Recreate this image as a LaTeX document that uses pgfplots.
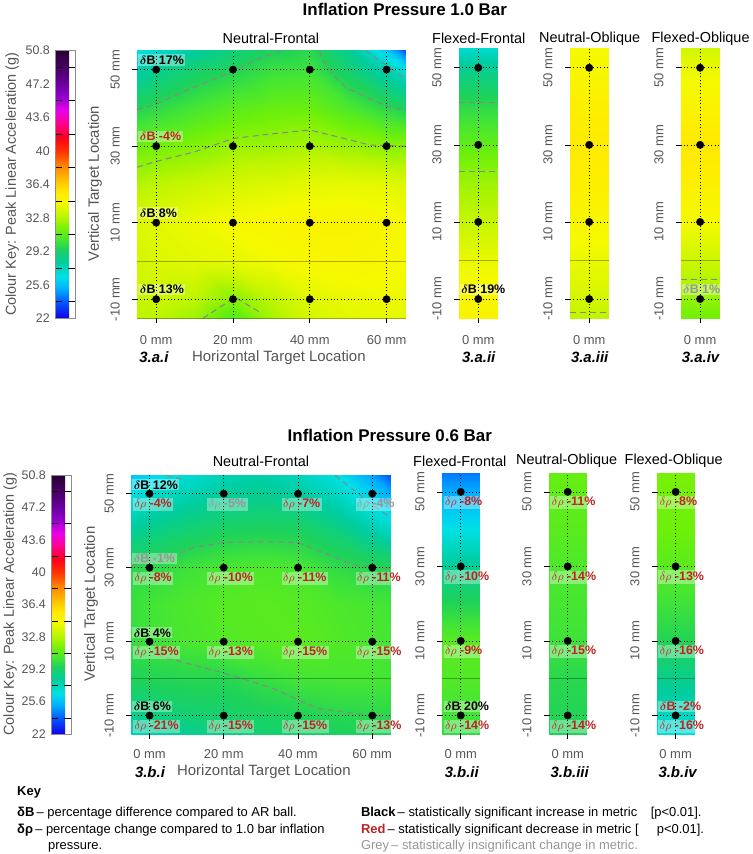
\documentclass[border=0pt]{standalone}
\usepackage{fontspec}
\setmainfont{Liberation Sans}
\usepackage{amsmath}
\usepackage{pgfplots}
\pgfplotsset{compat=1.18}

\definecolor{ticktext}{RGB}{85,85,85}
\definecolor{sigred}{RGB}{190,35,35}
\definecolor{insig}{RGB}{150,150,150}
\definecolor{ctrgrey}{RGB}{135,135,135}

\newcommand{\fsz}[1]{\fontsize{#1}{#1}\selectfont}
\newcommand{\dB}{$\boldsymbol{\delta}$B}
\newcommand{\dr}{$\delta\rho$}

\tikzset{
  lab/.style={anchor=west, fill=white, fill opacity=0.35, text opacity=1,
    inner xsep=1.5bp, inner ysep=1.2bp, font=\fsz{12.5}\bfseries},
  lB/.style={lab, text=black},
  lR/.style={lab, text=sigred},
  lG/.style={lab, text=insig},
}

\pgfplotsset{
  colormap={accel}{
    rgb255(0pt)=(20,0,230);
    rgb255(18pt)=(0,90,255);
    rgb255(32pt)=(0,175,255);
    rgb255(45pt)=(0,225,230);
    rgb255(60pt)=(0,205,160);
    rgb255(75pt)=(30,210,90);
    rgb255(85pt)=(70,230,50);
    rgb255(95pt)=(110,240,10);
    rgb255(110pt)=(190,245,0);
    rgb255(125pt)=(245,250,0);
    rgb255(135pt)=(255,235,0);
    rgb255(145pt)=(255,205,0);
    rgb255(165pt)=(255,130,0);
    rgb255(180pt)=(255,50,0);
    rgb255(195pt)=(250,0,30);
    rgb255(210pt)=(255,0,150);
    rgb255(223pt)=(235,0,235);
    rgb255(240pt)=(140,0,200);
    rgb255(260pt)=(90,0,130);
    rgb255(288pt)=(40,0,50)
  },
  hm/.style={
    scale only axis,
    anchor=north west,
    axis on top,
    clip=false,
    axis line style={draw=none},
    tick pos=left,
    tick align=outside,
    major tick length=5bp,
    tick style={black, line width=0.6bp},
    grid=major,
    major grid style={black, dash pattern=on 0.8bp off 2.6bp, line width=0.7bp},
    ymin=-15, ymax=55,
    ytick={-10,10,30,50},
    yticklabels={-10 mm,10 mm,30 mm,50 mm},
    xticklabel style={font=\fsz{13}, text=ticktext, anchor=north, inner sep=0pt},
    yticklabel style={font=\fsz{13}, text=ticktext, rotate=90, anchor=south, inner sep=0pt},
    yticklabel shift=12bp,
    extra y ticks={0},
    extra y tick labels={},
    extra y tick style={major tick length=0pt,
      major grid style={solid, black, opacity=0.3, line width=0.8bp}},
    colormap name=accel,
    point meta min=22, point meta max=50.8,
  },
  nf/.style={hm, xmin=-5, xmax=65, xtick={0,20,40,60},
    xticklabels={0 mm,20 mm,40 mm,60 mm}},
  sm/.style={hm, xmin=-5, xmax=5, xtick={0}, xticklabels={0 mm}},
  cbar/.style={
    colorbar left,
    colorbar style={
      at={(parent axis.north west)}, anchor=north east,
      xshift=#1,
      width=20bp,
      ytick={22,25.6,29.2,32.8,36.4,40,43.6,47.2,50.8},
      yticklabels={22,25.6,29.2,32.8,36.4,40,43.6,47.2,50.8},
      minor ytick={23.8,27.4,31,34.6,38.2,41.8,45.4,49},
      ytick pos=both,
      yticklabel pos=left,
      major tick length=0pt,
      minor tick length=7bp,
      tick align=inside,
      minor tick style={black, line width=0.6bp},
      yticklabel style={font=\fsz{12.5}, text=ticktext, anchor=east, inner sep=0pt},
      yticklabel shift=5bp,
      axis line style={draw=black!45, line width=0.4bp},
    }
  },
  ctr/.style={draw=ctrgrey, dash pattern=on 6bp off 4bp, line width=1bp, mark=none},
  pts/.style={only marks, mark=*, mark size=3.7bp, black},
  heat/.style={surf, shader=interp, point meta=explicit},
}

\begin{document}
\begin{tikzpicture}[x=1bp, y=1bp]
\path (0,0) rectangle (749,854);

% ---------------- Inflation pressure 1.0 bar ----------------
\node[font=\fsz{17}\bfseries] at (402,845) {Inflation Pressure 1.0 Bar};

\begin{axis}[nf, cbar=-53.5bp, at={(134bp,804bp)}, width=269bp, height=268bp,
  xticklabel shift=12bp]
\addplot[heat, mesh/cols=9] table[meta index=2] {
x y v
-5 -15 33.0
0 -15 33.0
10 -15 32.4
20 -15 30.8
30 -15 32.5
40 -15 33.6
50 -15 34.0
60 -15 34.1
65 -15 34.0
-5 -10 33.2
0 -10 33.4
10 -10 33.0
20 -10 31.9
30 -10 33.0
40 -10 33.9
50 -10 34.2
60 -10 34.3
65 -10 34.2
-5 0 33.6
0 0 33.8
10 0 34.0
20 0 34.1
30 0 34.4
40 0 34.7
50 0 34.8
60 0 34.7
65 0 34.5
-5 10 33.8
0 10 34.0
10 10 34.3
20 10 34.6
30 10 34.8
40 10 35.0
50 10 35.0
60 10 34.8
65 10 34.5
-5 20 32.8
0 20 33.0
10 20 33.3
20 20 33.6
30 20 33.8
40 20 34.0
50 20 34.1
60 20 34.0
65 20 33.8
-5 30 31.4
0 30 31.6
10 30 31.9
20 30 32.3
30 30 32.4
40 30 32.6
50 30 32.3
60 30 32.0
65 30 32.0
-5 40 29.6
0 40 29.9
10 40 30.5
20 40 31.0
30 40 31.3
40 40 31.4
50 40 30.7
60 40 29.8
65 40 29.4
-5 50 27.8
0 50 28.3
10 50 29.1
20 50 29.6
30 50 30.2
40 50 30.3
50 50 29.0
60 50 27.6
65 50 26.8
-5 55 26.5
0 55 27.0
10 55 28.0
20 55 28.8
30 55 29.4
40 55 29.8
50 55 28.3
60 55 25.8
65 55 23.6
};
\addplot[ctr] coordinates {(-5,39.5) (0,41) (10,45.5) (20,49.5) (27,53) (33,55)};
\addplot[ctr] coordinates {(42.6,55) (43,53) (46.8,47.9) (49.4,45.3) (55.6,42.4) (59.7,40.6) (65,39.3)};
\addplot[ctr] coordinates {(54.5,55) (59,51.8) (65,47.5)};
\addplot[ctr] coordinates {(-5,24.5) (0,26) (10,28.5) (20,32) (30,33.2) (40,34.2) (47,32.5) (55.6,30.3) (65,30)};
\addplot[ctr] coordinates {(12.2,-15) (20.5,-9.5) (27.3,-13.6)};
\addplot[pts] coordinates {(0,-10) (20,-10) (40,-10) (60,-10) (0,10) (20,10) (40,10) (60,10)
  (0,30) (20,30) (40,30) (60,30) (0,50) (20,50) (40,50) (60,50)};
\draw[black, opacity=0.3, line width=0.8bp] (rel axis cs:0,0) -- (rel axis cs:1,0);
\node[lB] at (axis cs:-4.7,52.5) {\dB\ 17\%};
\node[lR] at (axis cs:-4.7,32.5) {\dB\ -4\%};
\node[lB] at (axis cs:-4.7,12.5) {\dB\ 8\%};
\node[lB] at (axis cs:-4.7,-7.5) {\dB\ 13\%};
\end{axis}

\begin{axis}[sm, at={(456bp,806bp)}, width=39bp, height=270bp, xticklabel shift=12bp]
\addplot[heat, mesh/cols=2] table[meta index=2] {
x y v
-5 -15 35.0
5 -15 35.0
-5 -10 34.8
5 -10 34.8
-5 0 34.2
5 0 34.2
-5 10 33.2
5 10 33.2
-5 20 32.4
5 20 32.4
-5 30 31.2
5 30 31.2
-5 40 29.9
5 40 29.9
-5 50 28.3
5 50 28.3
-5 55 27.0
5 55 27.0
};
\addplot[ctr] coordinates {(-5,41) (5,41)};
\addplot[ctr] coordinates {(-5,23.1) (5,23.1)};
\addplot[pts] coordinates {(0,-10) (0,10) (0,30) (0,50)};
\node[lB] at (axis cs:-4.8,-7.5) {\dB\ 19\%};
\end{axis}

\begin{axis}[sm, at={(567bp,806bp)}, width=39bp, height=270bp, xticklabel shift=12bp]
\addplot[heat, mesh/cols=2] table[meta index=2] {
x y v
-5 -15 33.0
5 -15 33.0
-5 -10 33.6
5 -10 33.6
-5 0 34.2
5 0 34.2
-5 10 34.8
5 10 34.8
-5 20 35.2
5 20 35.2
-5 30 35.5
5 30 35.5
-5 40 35.2
5 40 35.2
-5 50 34.7
5 50 34.7
-5 55 34.5
5 55 34.5
};
\addplot[ctr] coordinates {(-5,-13.4) (5,-13.4)};
\addplot[pts] coordinates {(0,-10) (0,10) (0,30) (0,50)};
\end{axis}

\begin{axis}[sm, at={(678bp,806bp)}, width=39bp, height=270bp, xticklabel shift=12bp]
\addplot[heat, mesh/cols=2] table[meta index=2] {
x y v
-5 -15 31.5
5 -15 31.5
-5 -10 32.2
5 -10 32.2
-5 0 33.4
5 0 33.4
-5 10 34.5
5 10 34.5
-5 20 35.2
5 20 35.2
-5 30 35.6
5 30 35.6
-5 40 35.0
5 40 35.0
-5 50 34.2
5 50 34.2
-5 55 33.5
5 55 33.5
};
\addplot[ctr] coordinates {(-5,-5) (5,-5)};
\addplot[pts] coordinates {(0,-10) (0,10) (0,30) (0,50)};
\node[lG] at (axis cs:-4.8,-7.5) {\dB\ 1\%};
\end{axis}

\node[font=\fsz{14.5}] at (268,816) {Neutral-Frontal};
\node[font=\fsz{14.5}] at (476,816) {Flexed-Frontal};
\node[font=\fsz{14.5}] at (587,816) {Neutral-Oblique};
\node[font=\fsz{14.5}] at (698,816) {Flexed-Oblique};
\node[font=\fsz{14.5}, text=ticktext, rotate=90] at (9,670) {Colour Key: Peak Linear Acceleration (g)};
\node[font=\fsz{15}, text=ticktext, rotate=90] at (92,671) {Vertical Target Location};
\node[font=\fsz{15}, text=ticktext] at (276,497) {Horizontal Target Location};
\node[font=\fsz{15}\bfseries\itshape] at (151,497) {3.a.i};
\node[font=\fsz{15}\bfseries\itshape] at (476,497) {3.a.ii};
\node[font=\fsz{15}\bfseries\itshape] at (587,497) {3.a.iii};
\node[font=\fsz{15}\bfseries\itshape] at (698,497) {3.a.iv};

% ---------------- Inflation pressure 0.6 bar ----------------
\node[font=\fsz{17}\bfseries] at (387,419) {Inflation Pressure 0.6 Bar};

\begin{axis}[nf, cbar=-51.5bp, at={(128bp,379bp)}, width=260bp, height=259bp,
  xticklabel shift=10.5bp]
\addplot[heat, mesh/cols=9] table[meta index=2] {
x y v
-5 -15 27.5
0 -15 27.8
10 -15 28.3
20 -15 28.7
30 -15 29.0
40 -15 29.2
50 -15 29.4
60 -15 29.5
65 -15 29.5
-5 -10 28.3
0 -10 28.6
10 -10 28.9
20 -10 29.1
30 -10 29.3
40 -10 29.5
50 -10 29.7
60 -10 29.8
65 -10 29.8
-5 0 29.5
0 0 29.6
10 0 29.7
20 0 29.7
30 0 30.1
40 0 30.4
50 0 30.5
60 0 30.5
65 0 30.4
-5 10 30.1
0 10 30.3
10 10 30.6
20 10 30.8
30 10 30.9
40 10 31.0
50 10 30.8
60 10 30.6
65 10 30.5
-5 20 30.2
0 20 30.4
10 20 30.7
20 20 30.9
30 20 31.0
40 20 30.9
50 20 30.7
60 20 30.5
65 20 30.4
-5 30 29.8
0 30 29.9
10 30 30.3
20 30 30.6
30 30 30.7
40 30 30.6
50 30 30.0
60 30 29.7
65 30 29.7
-5 40 28.2
0 40 28.5
10 40 29.0
20 40 29.4
30 40 29.5
40 40 29.4
50 40 28.8
60 40 27.8
65 40 27.2
-5 50 26.6
0 50 27.0
10 50 27.6
20 50 28.1
30 50 28.3
40 50 28.0
50 50 27.3
60 50 26.0
65 50 25.2
-5 55 25.8
0 55 26.2
10 55 26.9
20 55 27.6
30 55 27.8
40 55 27.4
50 55 26.6
60 55 25.0
65 55 23.6
};
\addplot[ctr] coordinates {(4.5,55) (9,53.8)};
\addplot[ctr] coordinates {(50,55) (55,51) (60,47) (65,43.5)};
\addplot[ctr] coordinates {(-5,30.5) (6,33) (12,35.5) (20,36.8) (30,37) (40,36.8) (47,34) (55,30.8) (65,29.5)};
\addplot[ctr] coordinates {(2,6.5) (5,5.5) (20,1.5) (33,-2.5) (45,-8) (60,-10) (65,-10.3)};
\addplot[pts] coordinates {(0,-10) (20,-10) (40,-10) (60,-10) (0,10) (20,10) (40,10) (60,10)
  (0,30) (20,30) (40,30) (60,30) (0,50) (20,50) (40,50) (60,50)};
\node[lB] at (axis cs:-4.7,52.4) {\dB\ 12\%};
\node[lG] at (axis cs:-4.7,32.5) {\dB\ -1\%};
\node[lB] at (axis cs:-4.7,12.4) {\dB\ 4\%};
\node[lB] at (axis cs:-4.7,-7.6) {\dB\ 6\%};
\node[lR] at (axis cs:-4.5,47.1) {\dr\ -4\%};
\node[lG] at (axis cs:15.5,47.1) {\dr\ -5\%};
\node[lR] at (axis cs:35.5,47.1) {\dr\ -7\%};
\node[lG] at (axis cs:55.5,47.1) {\dr\ -4\%};
\node[lR] at (axis cs:-4.5,27.1) {\dr\ -8\%};
\node[lR] at (axis cs:15.5,27.1) {\dr\ -10\%};
\node[lR] at (axis cs:35.5,27.1) {\dr\ -11\%};
\node[lR] at (axis cs:55.5,27.1) {\dr\ -11\%};
\node[lR] at (axis cs:-4.5,7.1) {\dr\ -15\%};
\node[lR] at (axis cs:15.5,7.1) {\dr\ -13\%};
\node[lR] at (axis cs:35.5,7.1) {\dr\ -15\%};
\node[lR] at (axis cs:55.5,7.1) {\dr\ -15\%};
\node[lR] at (axis cs:-4.5,-12.9) {\dr\ -21\%};
\node[lR] at (axis cs:15.5,-12.9) {\dr\ -15\%};
\node[lR] at (axis cs:35.5,-12.9) {\dr\ -15\%};
\node[lR] at (axis cs:55.5,-12.9) {\dr\ -13\%};
\end{axis}

\begin{axis}[sm, at={(439bp,381bp)}, width=38bp, height=261bp, xticklabel shift=10.5bp]
\addplot[heat, mesh/cols=2] table[meta index=2] {
x y v
-5 -15 30.0
5 -15 30.0
-5 -10 30.4
5 -10 30.4
-5 0 30.8
5 0 30.8
-5 10 31.0
5 10 31.0
-5 20 29.6
5 20 29.6
-5 30 28.2
5 30 28.2
-5 40 26.5
5 40 26.5
-5 50 25.2
5 50 25.2
-5 55 24.3
5 55 24.3
};
\addplot[pts] coordinates {(0,-10) (0,10) (0,30) (0,50)};
\node[lB] at (axis cs:-4.6,-7.6) {\dB\ 20\%};
\node[lR] at (axis cs:-4.6,47.1) {\dr\ -8\%};
\node[lR] at (axis cs:-4.6,27.1) {\dr\ -10\%};
\node[lR] at (axis cs:-4.6,7.1) {\dr\ -9\%};
\node[lR] at (axis cs:-4.6,-12.9) {\dr\ -14\%};
\end{axis}

\begin{axis}[sm, at={(546bp,381bp)}, width=38bp, height=261bp, xticklabel shift=10.5bp]
\addplot[heat, mesh/cols=2] table[meta index=2] {
x y v
-5 -15 29.5
5 -15 29.5
-5 -10 29.6
5 -10 29.6
-5 0 29.8
5 0 29.8
-5 10 30.3
5 10 30.3
-5 20 30.5
5 20 30.5
-5 30 30.7
5 30 30.7
-5 40 31.0
5 40 31.0
-5 50 31.2
5 50 31.2
-5 55 31.3
5 55 31.3
};
\addplot[pts] coordinates {(0,-10) (0,10) (0,30) (0,50)};
\node[lR] at (axis cs:-4.6,47.1) {\dr\ -11\%};
\node[lR] at (axis cs:-4.6,27.1) {\dr\ -14\%};
\node[lR] at (axis cs:-4.6,7.1) {\dr\ -15\%};
\node[lR] at (axis cs:-4.6,-12.9) {\dr\ -14\%};
\end{axis}

\begin{axis}[sm, at={(654bp,381bp)}, width=38bp, height=261bp, xticklabel shift=10.5bp]
\addplot[heat, mesh/cols=2] table[meta index=2] {
x y v
-5 -15 26.7
5 -15 26.7
-5 -10 27.3
5 -10 27.3
-5 0 28.5
5 0 28.5
-5 10 29.6
5 10 29.6
-5 20 30.3
5 20 30.3
-5 30 31.0
5 30 31.0
-5 40 31.5
5 40 31.5
-5 50 31.6
5 50 31.6
-5 55 31.7
5 55 31.7
};
\addplot[pts] coordinates {(0,-10) (0,10) (0,30) (0,50)};
\node[lR] at (axis cs:-4.6,-7.6) {\dB\ -2\%};
\node[lR] at (axis cs:-4.6,47.1) {\dr\ -8\%};
\node[lR] at (axis cs:-4.6,27.1) {\dr\ -13\%};
\node[lR] at (axis cs:-4.6,7.1) {\dr\ -16\%};
\node[lR] at (axis cs:-4.6,-12.9) {\dr\ -16\%};
\end{axis}

\node[font=\fsz{14.5}] at (258,393) {Neutral-Frontal};
\node[font=\fsz{14.5}] at (457,393) {Flexed-Frontal};
\node[font=\fsz{14.5}] at (564,393) {Neutral-Oblique};
\node[font=\fsz{14.5}] at (671,393) {Flexed-Oblique};
\node[font=\fsz{14.5}, text=ticktext, rotate=90] at (7,250) {Colour Key: Peak Linear Acceleration (g)};
\node[font=\fsz{15}, text=ticktext, rotate=90] at (88,250) {Vertical Target Location};
\node[font=\fsz{15}, text=ticktext] at (261,82) {Horizontal Target Location};
\node[font=\fsz{15}\bfseries\itshape] at (147,82) {3.b.i};
\node[font=\fsz{15}\bfseries\itshape] at (459,82) {3.b.ii};
\node[font=\fsz{15}\bfseries\itshape] at (567,82) {3.b.iii};
\node[font=\fsz{15}\bfseries\itshape] at (675,82) {3.b.iv};

% ---------------- Key ----------------
\begin{scope}[every node/.style={anchor=base west, inner sep=0pt, font=\fsz{13}}]
\node at (14,59) {\bfseries Key};
\node at (14,37.5) {\textbf{δB}\,– percentage difference compared to AR ball.};
\node at (14,21) {\textbf{δρ}\,– percentage change compared to 1.0 bar inflation};
\node at (45,4.5) {pressure.};
\node at (358,37.5) {\textbf{Black}\,– statistically significant increase in metric};
\node at (648,37.5) {[p<0.01].};
\node at (358,21) {\textbf{\textcolor{sigred}{Red}}\,– statistically significant decrease in metric [};
\node at (654,21) {p<0.01].};
\node[text=insig] at (358,4.5) {Grey\,– statistically insignificant change in metric.};
\end{scope}
\end{tikzpicture}
\end{document}
